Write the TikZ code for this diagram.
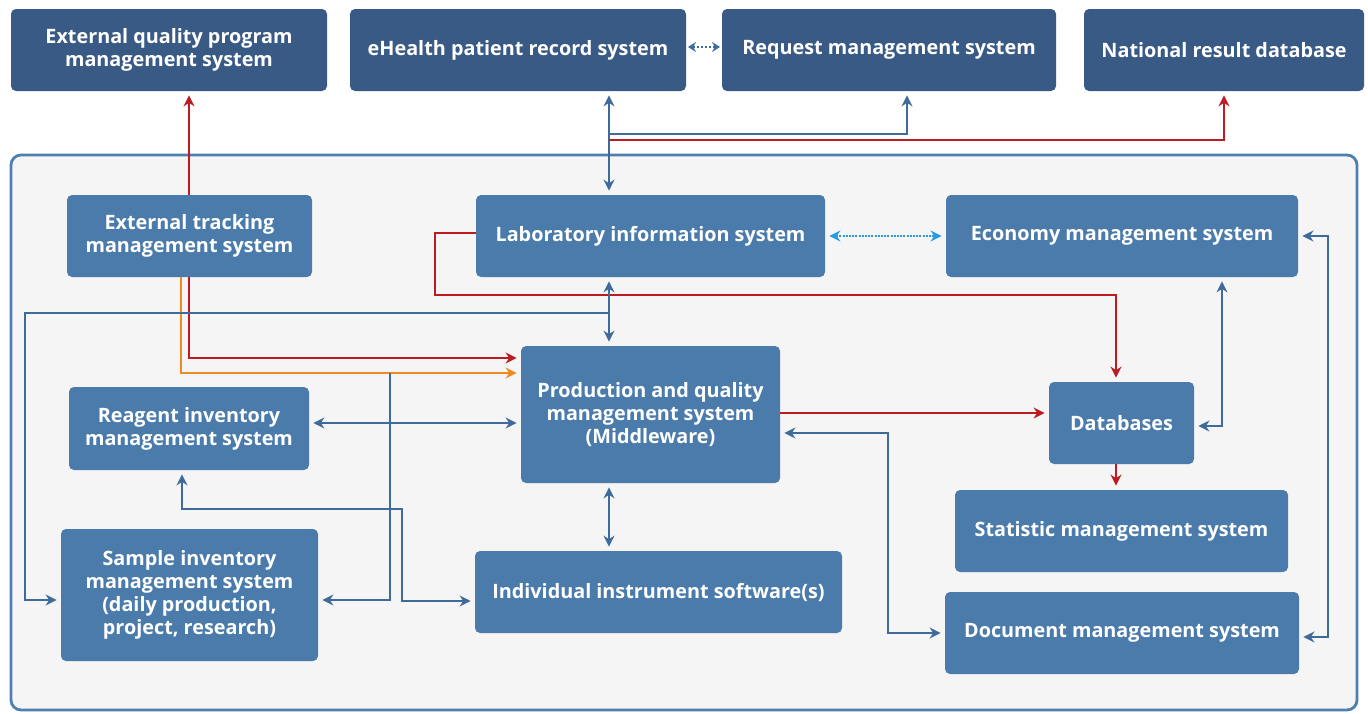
\documentclass[tikz,border=0pt]{standalone}
\usepackage{fontspec}
\setmainfont{Open Sans}
\usetikzlibrary{arrows.meta}

\definecolor{outerbox}{HTML}{3A5A86}
\definecolor{innerbox}{HTML}{4A7BAB}
\definecolor{wire}{HTML}{3E6B9C}
\definecolor{wirered}{HTML}{BE1A22}
\definecolor{wireorange}{HTML}{F08A24}
\definecolor{wiresky}{HTML}{2A9BE0}
\definecolor{panel}{HTML}{F5F5F5}
\definecolor{panelline}{HTML}{4F7FB0}

\tikzset{
  sysbox/.style={rounded corners=2.5pt, inner sep=0pt, align=center, text=white,
    font=\bfseries\fontsize{9.9}{11.6}\selectfont, minimum height=41pt},
  extsys/.style={sysbox, fill=outerbox},
  intsys/.style={sysbox, fill=innerbox},
  link/.style={draw=wire, line width=1pt},
  redlink/.style={draw=wirered, line width=1pt},
  orangelink/.style={draw=wireorange, line width=1pt},
  skylink/.style={draw=wiresky, line width=1pt, dash pattern=on 1pt off 0.6pt},
  tip/.style={-{Stealth[length=5.5pt,width=5.5pt,inset=1.8pt]}, shorten >=2pt},
  bi/.style={{Stealth[length=5.5pt,width=5.5pt,inset=1.8pt]}-{Stealth[length=5.5pt,width=5.5pt,inset=1.8pt]}, shorten >=2pt, shorten <=2pt},
  shortbi/.style={{Stealth[length=4pt,width=5pt,inset=1.4pt]}-{Stealth[length=4pt,width=5pt,inset=1.4pt]}, shorten >=0.8pt, shorten <=0.8pt}
}

\begin{document}
\begin{tikzpicture}[x=0.5pt, y=-0.5pt]
\useasboundingbox (0,0) rectangle (1368,713);
\fill[white] (0,0) rectangle (1368,713);

% laboratory frame
\draw[fill=panel, draw=panelline, line width=1.4pt, rounded corners=5pt] (11,155) rectangle (1357,710);

% external systems
\node[extsys, minimum width=158pt] (eqp) at (169,50) {External quality program\\management system};
\node[extsys, minimum width=168pt] (ehealth) at (518,50) {eHealth patient record system};
\node[extsys, minimum width=167pt] (request) at (889,50) {Request management system};
\node[extsys, minimum width=140pt] (national) at (1224,50) {National result database};

% laboratory systems
\node[intsys, minimum width=122.5pt] (etm) at (189.5,236) {External tracking\\management system};
\node[intsys, minimum width=174.5pt] (lis) at (650.5,236) {Laboratory information system};
\node[intsys, minimum width=176pt] (econ) at (1122,236) {Economy management system};
\node[intsys, minimum width=129.5pt, minimum height=68.5pt] (pqm) at (650.5,414.5) {Production and quality\\management system\\(Middleware)};
\node[intsys, minimum width=72.5pt] (db) at (1121.5,423) {Databases};
\node[intsys, minimum width=120pt, minimum height=41.5pt] (reagent) at (189,428.5) {Reagent inventory\\management system};
\node[intsys, minimum width=128.5pt, minimum height=66pt] (sample) at (189.5,595) {Sample inventory\\management system\\(daily production,\\project, research)};
\node[intsys, minimum width=183.5pt] (instr) at (658.5,592) {Individual instrument software(s)};
\node[intsys, minimum width=166.5pt] (stat) at (1121.5,531) {Statistic management system};
\node[intsys, minimum width=177pt] (doc) at (1122,633) {Document management system};

% branch points
\coordinate (jreq) at (609,134);
\coordinate (jnat) at (609,140);
\coordinate (jsample) at (609,313);
\coordinate (jorange) at (390,373);

% top connections
\draw[link, shortbi, dash pattern=on 1.2pt off 0.8pt] (ehealth.east |- 0,47) -- (request.west |- 0,47);
\draw[link, bi] (ehealth.south -| 609,0) -- (lis.north -| 609,0);
\draw[link, tip] (jreq) -| (request.south -| 907,0);
\draw[redlink, tip] (jnat) -| (national.south -| 1224,0);
\draw[redlink, tip] (etm.north -| 189,0) -- (eqp.south -| 189,0);

% tracking system to middleware
\draw[redlink, tip] (etm.south -| 189,0) |- (pqm.west |- 0,358);
\draw[orangelink, tip] (etm.south -| 181,0) |- (pqm.west |- 0,373);

% LIS connections
\draw[redlink, tip] (lis.west |- 0,233) -| (435,295) -| (db.north -| 1116,0);
\draw[link, bi] (lis.south -| 609,0) -- (pqm.north -| 609,0);
\draw[link, tip] (jsample) -| (25,600) -- (sample.west |- 0,600);
\draw[skylink, bi] (lis.east) -- (econ.west);

% inventory connections
\draw[link, tip] (jorange) |- (sample.east |- 0,600);
\draw[link, bi] (reagent.east |- 0,423) -- (pqm.west |- 0,423);
\draw[link, bi] (reagent.south -| 182,0) |- (402,509) |- (instr.west |- 0,601);
\draw[link, bi] (pqm.south -| 609,0) -- (instr.north -| 609,0);

% right-hand side
\draw[redlink, tip] (pqm.east |- 0,413) -- (db.west |- 0,413);
\draw[link, bi] (pqm.east |- 0,433) -| (888,633) -- (doc.west |- 0,633);
\draw[redlink, tip] (db.south -| 1116,0) -- (stat.north -| 1116,0);
\draw[link, bi] (econ.south -| 1222,0) |- (db.east |- 0,426);
\draw[link, bi] (econ.east) -- (1328,236) |- (doc.east |- 0,637);
\end{tikzpicture}
\end{document}
